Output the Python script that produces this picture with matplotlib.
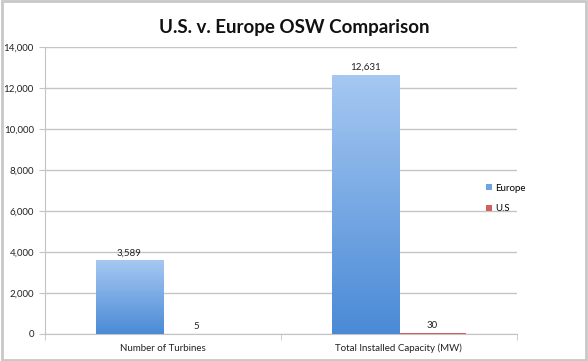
import numpy as np
import matplotlib.pyplot as plt
from matplotlib.patches import Rectangle, Patch
from matplotlib.colors import LinearSegmentedColormap

plt.rcParams['font.family'] = ['Lato', 'DejaVu Sans']

# 数据
categories = ['Number of Turbines', 'Total Installed Capacity (MW)']
europe = [3589, 12631]
us = [5, 30]
yticks = [0, 2000, 4000, 6000, 8000, 10000, 12000, 14000]

fig = plt.figure(figsize=(5.88, 3.61), dpi=100)
ax = fig.add_axes([0.0765, 0.0748, 0.8025, 0.795])

x = np.arange(len(categories))
w = 0.284
grid_c = '#c4c4c4'

bars_eu = ax.bar(x - w / 2, europe, w, color='none', label='Europe', zorder=3)
bars_us = ax.bar(x + w / 2, us, w, color='#d0605a', label='U.S', zorder=3)

# 渐变填充（上浅下深）
cmap = LinearSegmentedColormap.from_list('eu', ['#4a8ad6', '#a6c8f2'])
grad = np.linspace(0, 1, 256).reshape(-1, 1)
for b in bars_eu:
    x0, y0 = b.get_x(), b.get_y()
    bw, bh = b.get_width(), b.get_height()
    im = ax.imshow(grad, cmap=cmap, origin='lower', aspect='auto',
                   extent=[x0, x0 + bw, y0, y0 + bh], zorder=3)
    im.set_clip_path(Rectangle((x0, y0), bw, bh, transform=ax.transData))

for bars, vals in [(bars_eu, europe), (bars_us, us)]:
    for b, v in zip(bars, vals):
        ax.text(b.get_x() + b.get_width() / 2, v + 150, f'{v:,}', ha='center', va='bottom',
                fontsize=7, color='#222222')

ax.set_xlim(-0.5, 1.5)
ax.set_ylim(0, 14000)
ax.set_yticks(yticks)
ax.set_yticklabels([f'{t:,}' for t in yticks], fontsize=7, color='#222222')
ax.set_xticks(x)
ax.set_xticklabels(categories, fontsize=7, color='#222222')
ax.tick_params(axis='x', length=0, pad=7)
ax.set_xticks([-0.5, 0.5, 1.5], minor=True)
ax.tick_params(axis='x', which='minor', length=4, color=grid_c, direction='out')
ax.tick_params(axis='y', length=4, color=grid_c, direction='out', pad=4)
ax.yaxis.grid(True, color=grid_c, lw=1)
ax.set_axisbelow(True)
for s in ['top', 'right']:
    ax.spines[s].set_visible(False)
ax.spines['left'].set_color(grid_c)
ax.spines['bottom'].set_color(grid_c)

fig.text(0.5, 0.925, 'U.S. v. Europe OSW Comparison', ha='center', va='center',
         fontsize=13.5, fontweight='bold', color='#111111')

handles = [Patch(facecolor='#6fa3e6', edgecolor='none'), Patch(facecolor='#d0605a', edgecolor='none')]
fig.legend(handles, ['Europe', 'U.S'], loc='center left', bbox_to_anchor=(0.812, 0.45),
           frameon=False, fontsize=7, handlelength=0.6, handleheight=0.6,
           handletextpad=0.3, labelspacing=1.2)

# 外框
fig.patches.append(Rectangle((0.003, 0.004), 0.994, 0.992, transform=fig.transFigure,
                             fill=False, edgecolor='#c8c8c8', lw=2))

fig.savefig('out.png', dpi=100)
